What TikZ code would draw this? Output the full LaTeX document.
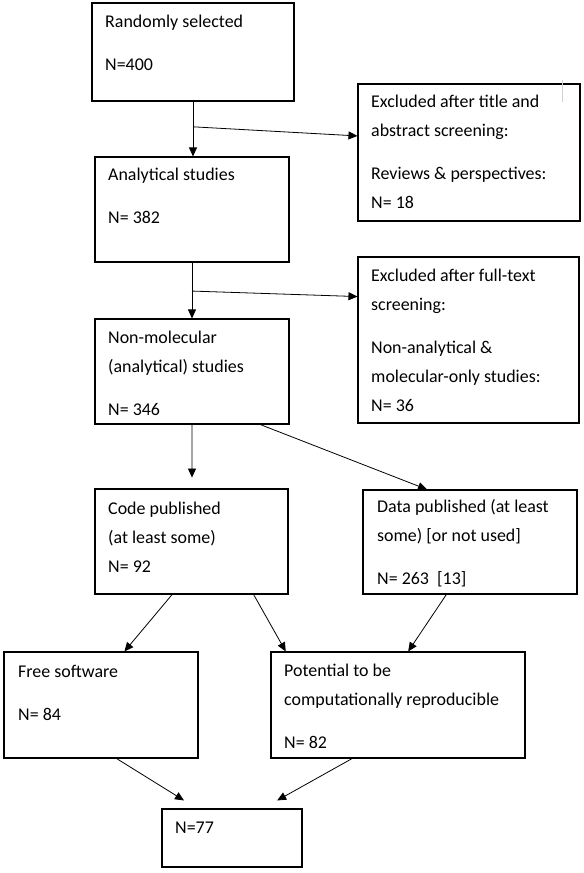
\documentclass[tikz,border=0pt]{standalone}
\usepackage{fontspec}
\setmainfont{Carlito}
\usetikzlibrary{arrows.meta,calc}

\tikzset{
  box/.style={draw, line width=1.1bp, inner sep=0pt},
  txt/.style={anchor=base west, align=left, inner sep=0pt, font=\fontsize{18}{29}\selectfont},
  arr/.style={-{Triangle[length=9bp,width=8bp]}, line width=0.8bp},
}

\begin{document}
\begin{tikzpicture}[x=1bp,y=-1bp]
\useasboundingbox (0,0) rectangle (584,873);

% boxes
\node[box, minimum width=202bp, minimum height=98bp] (sel) at (193,52) {};
\node[box, minimum width=222bp, minimum height=137bp] (ex1) at (469,152.5) {};
\node[box, minimum width=194bp, minimum height=105bp] (ana) at (192,209.5) {};
\node[box, minimum width=194bp, minimum height=105bp] (non) at (192,371.5) {};
\node[box, minimum width=221bp, minimum height=166bp] (ex2) at (468.5,340) {};
\node[box, minimum width=193bp, minimum height=105bp] (code) at (191.5,541.5) {};
\node[box, minimum width=214bp, minimum height=104bp] (data) at (470,542) {};
\node[box, minimum width=194bp, minimum height=106bp] (free) at (101,705) {};
\node[box, minimum width=254bp, minimum height=106bp] (pot) at (398,705) {};
\node[box, minimum width=140bp, minimum height=58bp] (all) at (232,838) {};

% texts (placed at the baseline of their last line)
\node[txt] (sel-t) at (105,70) {Randomly selected\\[14bp]N=400};
\node[txt] (ex1-t) at (371,208) {Excluded after title and\\abstract screening:\\[14bp]Reviews \& perspectives:\\N= 18};
\node[txt] (ana-t) at (108,223) {Analytical studies\\[14bp]N= 382};
\node[txt] (non-t) at (108,415) {Non-molecular\\(analytical) studies\\[14bp]N= 346};
\node[txt] (ex2-t) at (371,411) {Excluded after full-text\\screening:\\[14bp]Non-analytical \&\\molecular-only studies:\\N= 36};
\node[txt] (code-t) at (108,572) {Code published\\(at least some)\\N= 92};
\node[txt] (data-t) at (377,584) {Data published (at least\\some) [or not used]\\[14bp]N= 263\ \ [13]};
\node[txt] (free-t) at (18,720) {Free software\\[14bp]N= 84};
\node[txt] (pot-t) at (284,748) {Potential to be\\computationally reproducible\\[14bp]N= 82};
\node[txt] (all-t) at (175,833) {N=77};

% connectors
\draw[arr] (sel.south) -- (sel.south |- ana.north);
\draw[arr] ($(sel.south)!0.46!(sel.south |- ana.north)$) -- ($(ex1.north west)!0.38!(ex1.south west)$);
\draw[arr] (ana.south) -- (ana.south |- non.north);
\draw[arr] ($(ana.south)!0.51!(ana.south |- non.north)$) -- ($(ex2.north west)!0.24!(ex2.south west)$);
\draw[arr] (non.south) -- ($(non.south)!0.83!(non.south |- code.north)$);
\draw[arr] ($(non.south west)!0.85!(non.south east)$) -- ($(data.north west)!0.30!(data.north east)$);
\draw[arr] ($(code.south west)!0.40!(code.south east)$) -- ($(free.north west)!0.62!(free.north east)$);
\draw[arr] ($(code.south west)!0.82!(code.south east)$) -- ($(pot.north west)!0.06!(pot.north east)$);
\draw[arr] ($(data.south west)!0.39!(data.south east)$) -- ($(pot.north west)!0.54!(pot.north east)$);
\draw[arr] ($(free.south west)!0.58!(free.south east)$) -- ($(all.north west)!0.16!(all.north east)+(0,-8)$);
\draw[arr] ($(pot.south west)!0.32!(pot.south east)$) -- ($(all.north west)!0.82!(all.north east)+(0,-8)$);

\draw[gray!35, line width=0.8bp] (562,80) -- (562,102);

\end{tikzpicture}
\end{document}
